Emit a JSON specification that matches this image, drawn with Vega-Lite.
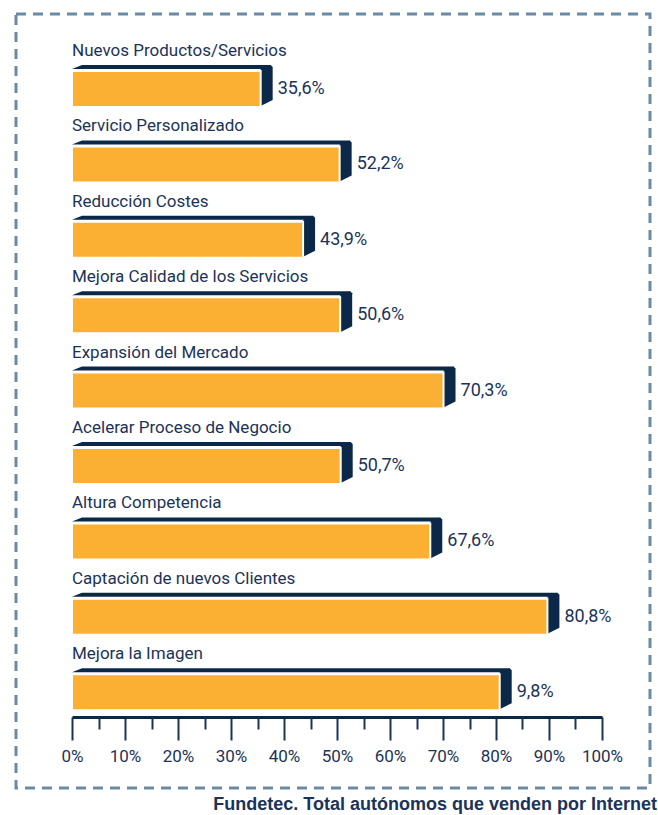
{
  "$schema": "https://vega.github.io/schema/vega-lite/v6.json",
  "width": 634,
  "height": 774,
  "autosize": {"type": "none"},
  "padding": {"left": 16, "top": 14, "right": 8, "bottom": 27},
  "background": "white",
  "config": {
    "view": {"stroke": "#6B8BA4", "strokeWidth": 3, "strokeDash": [10, 7]},
    "font": "Roboto"
  },
  "title": {
    "text": "Fundetec. Total autónomos que venden por Internet",
    "orient": "bottom",
    "anchor": "end",
    "dx": 7,
    "offset": 8,
    "fontSize": 18,
    "fontWeight": "bold",
    "color": "#1B3358",
    "font": "Liberation Sans"
  },
  "data": {
    "values": [
      {"cat": "Nuevos Productos/Servicios", "bar": 35.6, "label": "35,6%"},
      {"cat": "Servicio Personalizado", "bar": 50.5, "label": "52,2%"},
      {"cat": "Reducción Costes", "bar": 43.6, "label": "43,9%"},
      {"cat": "Mejora Calidad de los Servicios", "bar": 50.6, "label": "50,6%"},
      {"cat": "Expansión del Mercado", "bar": 70.1, "label": "70,3%"},
      {"cat": "Acelerar Proceso de Negocio", "bar": 50.7, "label": "50,7%"},
      {"cat": "Altura Competencia", "bar": 67.6, "label": "67,6%"},
      {"cat": "Captación de nuevos Clientes", "bar": 89.7, "label": "80,8%"},
      {"cat": "Mejora la Imagen", "bar": 80.7, "label": "9,8%"}
    ]
  },
  "encoding": {
    "y": {
      "field": "cat",
      "type": "nominal",
      "sort": null,
      "axis": null,
      "scale": {"range": [24.4, 703], "paddingInner": 0, "paddingOuter": 0}
    }
  },
  "resolve": {"scale": {"x": "shared"}, "axis": {"x": "independent"}},
  "layer": [
    {
      "mark": {"type": "bar", "height": 4, "yOffset": -9.1, "xOffset": 10, "x2Offset": 10, "color": "#0C2848"},
      "encoding": {
        "x": {"field": "bar", "type": "quantitative", "axis": null,
              "scale": {"domain": [0, 100], "range": [56, 586], "nice": false, "zero": true}}
      }
    },
    {
      "mark": {"type": "point", "filled": true, "size": 4, "shape": "M0,-20 L10,-24 L10,-20 Z", "yOffset": 12.9, "color": "#0C2848", "opacity": 1, "strokeWidth": 0},
      "encoding": {
        "x": {"datum": 0, "type": "quantitative", "axis": null}
      }
    },
    {
      "mark": {"type": "point", "filled": true, "size": 4, "shape": "M0,-20 L10,-24 L12,-22 L12,11 L0,17 Z", "yOffset": 12.9, "color": "#0C2848", "opacity": 1, "strokeWidth": 0},
      "encoding": {
        "x": {"field": "bar", "type": "quantitative", "axis": null}
      }
    },
    {
      "mark": {"type": "bar", "height": 36, "yOffset": 12.9, "fill": "#FBB034", "stroke": "white", "strokeWidth": 2},
      "encoding": {
        "x": {
          "field": "bar",
          "type": "quantitative",
          "axis": {
            "orient": "bottom",
            "values": [0, 10, 20, 30, 40, 50, 60, 70, 80, 90, 100],
            "offset": -71,
            "tickSize": 23,
            "tickWidth": 2,
            "tickColor": "#1B3358",
            "domainColor": "#0C2848",
            "domainWidth": 3,
            "labelExpr": "datum.value + '%'",
            "labelFontSize": 17,
            "labelFont": "Roboto",
            "labelColor": "#1B3358",
            "labelPadding": 8,
            "labelFlush": false,
            "labelOverlap": false,
            "grid": false,
            "title": null
          }
        }
      }
    },
    {
      "mark": {"type": "text", "align": "left", "baseline": "middle", "yOffset": -25.1, "fontSize": 17, "color": "#1B3358", "font": "Roboto"},
      "encoding": {
        "x": {"datum": 0, "type": "quantitative", "axis": null},
        "text": {"field": "cat"}
      }
    },
    {
      "mark": {"type": "text", "align": "left", "baseline": "middle", "yOffset": 12.9, "dx": 17, "fontSize": 18, "color": "#1B3358", "font": "Roboto"},
      "encoding": {
        "x": {
          "field": "bar",
          "type": "quantitative",
          "axis": {
            "orient": "bottom",
            "values": [5, 15, 25, 35, 45, 55, 65, 75, 85, 95],
            "offset": -71,
            "tickSize": 12,
            "tickWidth": 2,
            "tickColor": "#1B3358",
            "domain": false,
            "labels": false,
            "grid": false,
            "title": null
          }
        },
        "text": {"field": "label"}
      }
    }
  ]
}
